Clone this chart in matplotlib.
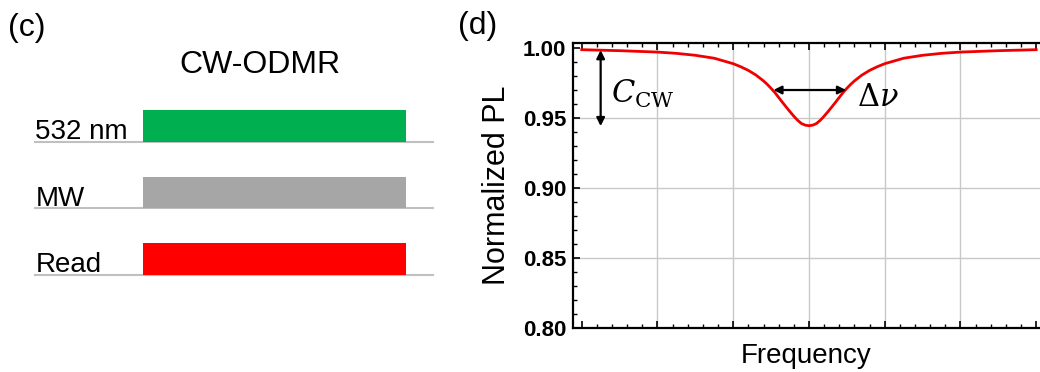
import matplotlib.pyplot as plt
from matplotlib.ticker import MultipleLocator, FixedLocator

plt.rcParams['font.family'] = ['Liberation Sans', 'DejaVu Sans']
plt.rcParams['mathtext.fontset'] = 'dejavuserif'

# ---- panel (c): CW-ODMR pulse sequence ----
channels = ['532 nm', 'MW', 'Read']
pulse_start = [0.0, 0.0, 0.0]
pulse_end = [1.0, 1.0, 1.0]
pulse_colors = ['#00b050', '#a6a6a6', '#ff0000']

# ---- panel (d): ODMR dip ----
freq = [-3.0, -2.5, -2.0, -1.75, -1.5, -1.25, -1.0, -0.9, -0.8, -0.7, -0.6,
        -0.55, -0.5, -0.45, -0.4, -0.35, -0.3, -0.25, -0.2, -0.15, -0.1, -0.05,
        0.0, 0.05, 0.1, 0.15, 0.2, 0.25, 0.3, 0.35, 0.4, 0.45, 0.5, 0.55,
        0.6, 0.7, 0.8, 0.9, 1.0, 1.25, 1.5, 1.75, 2.0, 2.5, 3.0]
norm_pl = [0.9988, 0.9981, 0.9971, 0.9962, 0.9948, 0.9927, 0.9888, 0.9866,
           0.9840, 0.9807, 0.9765, 0.9740, 0.9712, 0.9682, 0.9647, 0.9612,
           0.9578, 0.9545, 0.9513, 0.9484, 0.9461, 0.9449, 0.9445, 0.9449,
           0.9461, 0.9484, 0.9513, 0.9545, 0.9578, 0.9612, 0.9647, 0.9682,
           0.9712, 0.9740, 0.9765, 0.9807, 0.9840, 0.9866, 0.9888, 0.9927,
           0.9948, 0.9962, 0.9971, 0.9981, 0.9988]
y_ticks = [0.80, 0.85, 0.90, 0.95, 1.00]
grid_x = [-2, -1, 0, 1, 2]
contrast_x = -2.75
contrast_top = 0.9985
contrast_bottom = 0.9442
fwhm_y = 0.970
fwhm_left = -0.47
fwhm_right = 0.49

fig = plt.figure(figsize=(10.4, 3.72), dpi=100)

# left panel drawn in an axes spanning the left part of the figure
axc = fig.add_axes([0, 0, 450 / 1040, 1])
axc.set_xlim(-0.5443, 1.1686)
axc.set_ylim(3.453, -2.125)
axc.axis('off')
bar_h = 0.475
for i, (name, s, e, c) in enumerate(zip(channels, pulse_start, pulse_end, pulse_colors)):
    axc.plot([-0.411, 1.105], [i, i], color='#c0c0c0', lw=1.5, zorder=1)
    axc.barh(i - bar_h / 2, e - s, left=s, height=bar_h, color=c, zorder=2)
    axc.text(-0.41, i - 0.04, name, fontsize=20, va='baseline', ha='left')
axc.text(0.445, -1.15, 'CW-ODMR', fontsize=23, ha='center', va='center')

fig.text(8 / 1040, 1 - 28 / 372, '(c)', fontsize=23, va='center', ha='left')
fig.text(458 / 1040, 1 - 26 / 372, '(d)', fontsize=23, va='center', ha='left')

# right panel
ax = fig.add_axes([573 / 1040, 1 - 328 / 372, 467 / 1040, (328 - 42.7) / 372])
ax.plot(freq, norm_pl, color='#f00000', lw=2.0, zorder=3)
ax.set_xlim(-3.115, 3.05)
ax.set_ylim(0.80, 1.0038)

ax.set_yticks(y_ticks)
ax.set_yticklabels(['%.2f' % v for v in y_ticks], fontweight='bold', fontsize=16)
ax.yaxis.set_minor_locator(MultipleLocator(0.01))
ax.xaxis.set_major_locator(FixedLocator([-3, -2, -1, 0, 1, 2, 3]))
ax.xaxis.set_minor_locator(MultipleLocator(0.2))
ax.set_xticklabels([])
ax.tick_params(which='both', direction='in', top=True, right=False, color='black')
ax.tick_params(which='major', length=5, width=1.2, pad=5)
ax.tick_params(which='minor', length=3, width=1.0)
for sp in ['left', 'bottom', 'top']:
    ax.spines[sp].set_linewidth(1.6)
ax.spines['right'].set_visible(False)

for gx in grid_x:
    ax.axvline(gx, color='#c8c8c8', lw=1.0, zorder=0)
for gy in y_ticks[1:-1]:
    ax.axhline(gy, color='#c8c8c8', lw=1.0, zorder=0)

ax.set_xlabel('Frequency', fontsize=20, labelpad=6)
ax.set_ylabel('Normalized PL', fontsize=22, labelpad=8)

ax.annotate('', xy=(contrast_x, contrast_bottom), xytext=(contrast_x, contrast_top),
            arrowprops=dict(arrowstyle='<|-|>', color='black', lw=1.6, mutation_scale=12,
                            shrinkA=0, shrinkB=0))
ax.annotate('', xy=(fwhm_left, fwhm_y), xytext=(fwhm_right, fwhm_y),
            arrowprops=dict(arrowstyle='<|-|>', color='black', lw=1.6, mutation_scale=12,
                            shrinkA=0, shrinkB=0))
ax.text(-2.61, 0.967, r'$C_{\mathrm{CW}}$', fontsize=22, va='center', ha='left')
ax.text(0.63, 0.9645, r'$\Delta\nu$', fontsize=22, va='center', ha='left')

plt.savefig('out.png', dpi=100)
